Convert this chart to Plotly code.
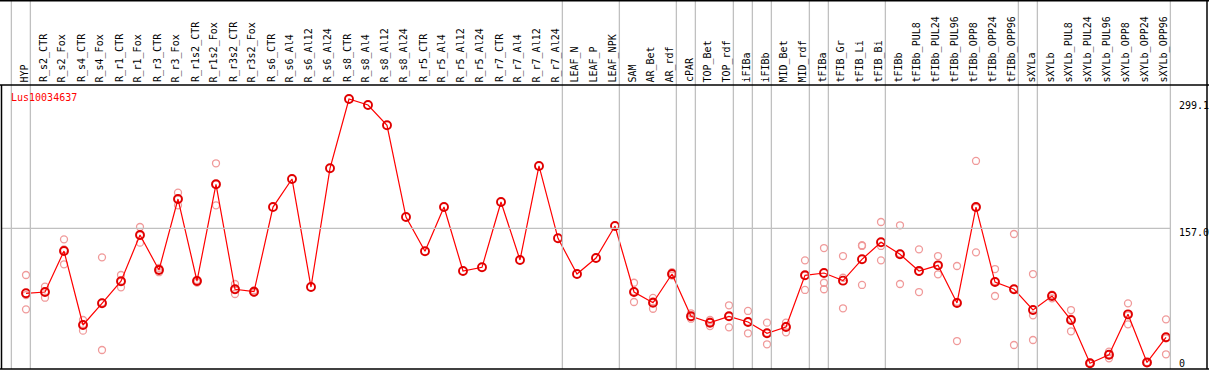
import plotly.graph_objects as go

categories = ["HYP", "R_s2_CTR", "R_s2_Fox", "R_s4_CTR", "R_s4_Fox", "R_r1_CTR", "R_r1_Fox",
              "R_r3_CTR", "R_r3_Fox", "R_r1s2_CTR", "R_r1s2_Fox", "R_r3s2_CTR", "R_r3s2_Fox",
              "R_s6_CTR", "R_s6_Al4", "R_s6_Al12", "R_s6_Al24", "R_s8_CTR", "R_s8_Al4",
              "R_s8_Al12", "R_s8_Al24", "R_r5_CTR", "R_r5_Al4", "R_r5_Al12", "R_r5_Al24",
              "R_r7_CTR", "R_r7_Al4", "R_r7_Al12", "R_r7_Al24", "LEAF_N", "LEAF_P", "LEAF_NPK",
              "SAM", "AR_Bet", "AR_rdf", "cPAR", "TOP_Bet", "TOP_rdf", "iFIBa", "iFIBb",
              "MID_Bet", "MID_rdf", "tFIBa", "tFIB_Gr", "tFIB_Li", "tFIB_Bi", "tFIBb",
              "tFIBb_PUL8", "tFIBb_PUL24", "tFIBb_PUL96", "tFIBb_OPP8", "tFIBb_OPP24",
              "tFIBb_OPP96", "sXYLa", "sXYLb", "sXYLb_PUL8", "sXYLb_PUL24", "sXYLb_PUL96",
              "sXYLb_OPP8", "sXYLb_OPP24", "sXYLb_OPP96"]

means = [81.5, 83.0, 130.6, 44.7, 69.9, 95.5, 149.2, 108.6, 191.0, 95.8, 208.1, 86.2, 83.4,
         181.7, 214.3, 88.8, 226.7, 307.2, 300.2, 276.6, 170.1, 130.3, 181.7, 107.4, 111.7,
         187.6, 120.2, 229.4, 145.4, 103.9, 122.5, 159.7, 83.0, 70.6, 103.9, 54.8, 47.4, 54.8,
         48.2, 35.1, 42.4, 102.4, 105.1, 96.2, 121.0, 140.8, 126.8, 107.4, 114.0, 70.3, 181.7,
         94.6, 86.2, 62.1, 78.4, 50.5, 0.3, 10.2, 57.1, 1.2, 30.4]

replicates = [
    [102.8, 79.5, 62.9], [89.2, 76.4, 83.4], [144.2, 115.2, 132.4], [50.5, 38.1, 45.5],
    [123.3, 15.7, 70.7], [102.8, 88.5, 95.2], [158.5, 140.3, 148.8], [106.0, 109.0, 111.0],
    [198.4, 183.7, 190.9], [94.0, 96.0, 97.0], [232.5, 183.7, 208.1], [92.3, 80.7, 85.6],
    [82.0, 83.0, 85.0], [], [], [], [], [], [], [], [], [], [], [], [], [], [], [], [],
    [], [], [], [93.8, 71.4, 83.8], [76.1, 63.6, 72.1], [102.0, 104.0, 106.0],
    [58.3, 52.0, 54.1], [50.5, 43.5, 48.2], [67.6, 42.0, 54.8], [61.0, 35.1, 48.5],
    [47.4, 22.3, 35.6], [47.4, 36.2, 43.6], [119.8, 85.4, 102.0], [134.1, 93.8, 86.2],
    [124.8, 99.6, 64.1], [137.3, 136.5, 91.2], [164.3, 136.5, 119.8], [160.5, 92.3, 127.6],
    [132.6, 83.0, 106.6], [124.8, 103.6, 113.6], [113.2, 26.1, 71.6], [235.2, 129.1, 180.8],
    [109.7, 78.4, 95.7], [150.4, 21.5, 86.7], [103.9, 56.0, 27.3], [79.5, 75.7, 80.0],
    [62.1, 37.4, 52.0], [0.9, 0.0, 0.0], [13.7, 6.0, 10.9], [69.9, 45.5, 56.0],
    [0.8, 1.2, 1.6], [51.3, 10.7, 29.2]]

group_ends = ["HYP", "R_r7_Al24", "LEAF_NPK", "AR_rdf", "cPAR", "TOP_rdf", "iFIBa", "iFIBb",
              "MID_rdf", "tFIBa", "tFIB_Bi", "tFIBb_OPP96", "sXYLa", "sXYLb_OPP96"]

gene = "Lus10034637"
ytick_vals = [299.1, 157.0, 0]
ytick_text = ["299.1", "157.0", "0"]

# ---- geometry (pixels) ----
W, H = 1209, 370
PX0, PXSTEP = 26.0, 19.0          # pixel of first category, spacing
Y_ZERO, Y_SCALE = 363.5, 0.8611   # pixel of value 0, pixels per unit

x_lo = -PX0 / PXSTEP
x_hi = x_lo + W / PXSTEP
y_hi = Y_ZERO / Y_SCALE
y_lo = -(H - Y_ZERO) / Y_SCALE


def px_to_x(p):
    return x_lo + p / PXSTEP


def py_to_y(p):
    return (Y_ZERO - p) / Y_SCALE


def py_to_paper(p):
    return 1 - p / H


idx = list(range(len(categories)))

fig = go.Figure()

rx, ry = [], []
for i, reps in enumerate(replicates):
    for r in reps:
        rx.append(i)
        ry.append(r)

fig.add_trace(go.Scatter(x=rx, y=ry, mode="markers",
                         marker=dict(symbol="circle-open", size=7, color="#f09a9a",
                                     line=dict(width=1.3, color="#f09a9a")),
                         hoverinfo="y", showlegend=False))

fig.add_trace(go.Scatter(x=idx, y=means, mode="lines+markers",
                         line=dict(color="red", width=1.2),
                         marker=dict(symbol="circle-open", size=8, color="#e00000",
                                     line=dict(width=1.9, color="#e00000")),
                         hovertext=categories, showlegend=False))

shapes = []
LABEL_BOTTOM = 85
PLOT_BOTTOM = 369
RIGHT_EDGE = 1207
SEP_OFF = 0.23

# separators (full height, gray)
sep_positions = [-1 + SEP_OFF] + [categories.index(g) + SEP_OFF for g in group_ends]
for s in sep_positions:
    shapes.append(dict(type="line", xref="x", yref="paper", x0=s, x1=s,
                       y0=py_to_paper(0), y1=py_to_paper(PLOT_BOTTOM),
                       line=dict(color="#c0c0c0", width=1.3)))

# horizontal grid at mid tick
shapes.append(dict(type="line", xref="x", yref="y", x0=px_to_x(1), x1=len(categories) - 1 + SEP_OFF,
                   y0=ytick_vals[1], y1=ytick_vals[1],
                   line=dict(color="#c0c0c0", width=1.3)))

# black frame lines
black = dict(color="black", width=1.5)
shapes.append(dict(type="line", xref="paper", yref="paper", x0=0, x1=1,
                   y0=py_to_paper(0.7), y1=py_to_paper(0.7), line=black))
shapes.append(dict(type="line", xref="paper", yref="paper", x0=0, x1=1,
                   y0=py_to_paper(LABEL_BOTTOM), y1=py_to_paper(LABEL_BOTTOM), line=black))
shapes.append(dict(type="line", xref="paper", yref="paper", x0=0, x1=1,
                   y0=py_to_paper(PLOT_BOTTOM), y1=py_to_paper(PLOT_BOTTOM), line=black))
shapes.append(dict(type="line", xref="paper", yref="paper", x0=1.5 / W, x1=1.5 / W,
                   y0=py_to_paper(LABEL_BOTTOM), y1=py_to_paper(PLOT_BOTTOM), line=black))
shapes.append(dict(type="line", xref="paper", yref="paper", x0=RIGHT_EDGE / W, x1=RIGHT_EDGE / W,
                   y0=py_to_paper(0), y1=py_to_paper(PLOT_BOTTOM), line=black))

annotations = []
mono = "DejaVu Sans Mono"
for i, c in enumerate(categories):
    annotations.append(dict(x=i - 0.08, y=py_to_y(LABEL_BOTTOM - 1), xref="x", yref="y",
                            text=c, textangle=-90, showarrow=False,
                            xanchor="center", yanchor="bottom",
                            font=dict(family=mono, size=10, color="black")))

annotations.append(dict(x=px_to_x(9), y=py_to_y(97), xref="x", yref="y", text=gene,
                        showarrow=False, xanchor="left", yanchor="middle",
                        font=dict(family=mono, size=10, color="red")))

yshifts = [0, -4, 0]
for v, t, sh in zip(ytick_vals, ytick_text, yshifts):
    annotations.append(dict(x=px_to_x(1177), y=v, xref="x", yref="y", text=t, showarrow=False,
                            xanchor="left", yanchor="middle", yshift=sh,
                            font=dict(family=mono, size=10, color="black")))

fig.update_layout(
    width=W, height=H,
    margin=dict(l=0, r=0, t=0, b=0),
    paper_bgcolor="white", plot_bgcolor="white",
    xaxis=dict(range=[x_lo, x_hi], visible=False, fixedrange=True),
    yaxis=dict(range=[y_lo, y_hi], visible=False, fixedrange=True),
    shapes=shapes, annotations=annotations,
    showlegend=False,
)

fig.write_html("out.html", config={"displayModeBar": False},
               post_script="document.body.style.margin='0';document.body.style.overflow='hidden';")
